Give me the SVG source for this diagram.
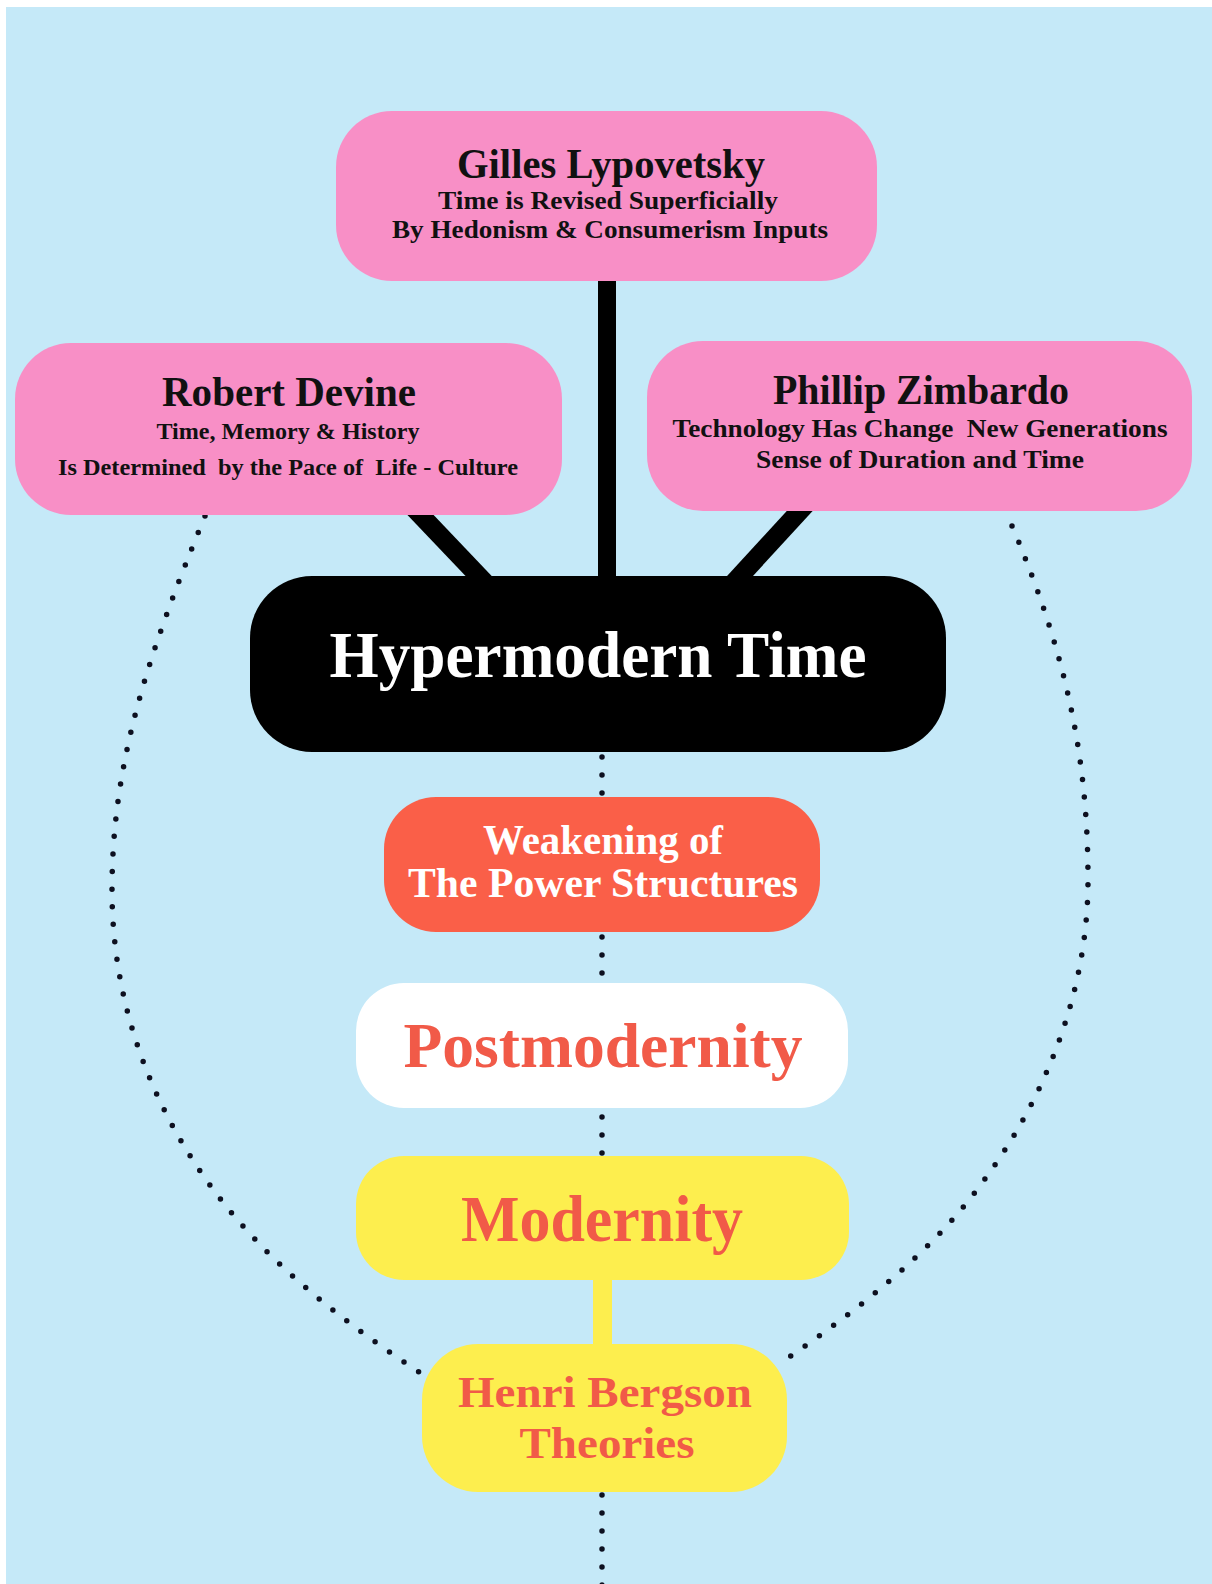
<svg xmlns="http://www.w3.org/2000/svg" width="1212" height="1584" viewBox="0 0 1212 1584">
  <defs>
    <style>
      .bg { fill: #c5e9f8; }
      .pink { fill: #f88fc6; }
      .t { font-family: "Liberation Serif", "Times New Roman", serif; font-weight: bold; text-anchor: middle; }
      .dark { fill: #111111; }
      .white { fill: #ffffff; }
      .red { fill: #f15a48; }
      .yellow { fill: #fdee4e; }
      .dots { fill: none; stroke: #0d1020; stroke-width: 5.5; stroke-linecap: round; }
      .bar { stroke: #000000; stroke-width: 19; stroke-linecap: butt; fill: none; }
    </style>
  </defs>

  <!-- page -->
  <rect x="0" y="0" width="1212" height="1584" fill="#ffffff"/>
  <rect class="bg" x="6" y="7" width="1206" height="1577"/>

  <!-- connectors -->
  <g id="connectors">
    <!-- dotted spine -->
    <path class="dots" d="M602 757 V1590" stroke-dasharray="0 18"/>
    <!-- dotted outer loop, left side -->
    <path class="dots" stroke-dasharray="0 17.6" d="M205 516 C150 650 112 760 112 890 C112 1015 160 1132 242 1225 C293 1283 357 1331 422 1374"/>
    <!-- dotted outer loop, right side -->
    <path class="dots" stroke-dasharray="0 17.6" d="M1012 526 C1067 655 1088 760 1088 880 C1088 1005 1035 1125 953 1219 C905 1273 847 1317 788 1358"/>
    <!-- black links into Hypermodern Time -->
    <rect x="598" y="270" width="18" height="315" fill="#000000"/>
    <line class="bar" x1="411" y1="505" x2="491" y2="589"/>
    <line class="bar" x1="807" y1="503" x2="729" y2="588"/>
    <!-- yellow link Modernity to Bergson -->
    <rect class="yellow" x="593" y="1270" width="19" height="80"/>
  </g>

  <g id="node-gilles">
    <rect class="pink" x="336" y="111" width="541" height="170" rx="56"/>
    <text class="t dark" x="611" y="178" font-size="42" textLength="308" lengthAdjust="spacingAndGlyphs">Gilles Lypovetsky</text>
    <text class="t dark" x="608" y="209" font-size="26" textLength="340" lengthAdjust="spacingAndGlyphs">Time is Revised Superficially</text>
    <text class="t dark" x="610" y="238" font-size="26" textLength="436" lengthAdjust="spacingAndGlyphs">By Hedonism &amp; Consumerism Inputs</text>
  </g>

  <g id="node-devine">
    <rect class="pink" x="15" y="343" width="547" height="172" rx="56"/>
    <text class="t dark" x="289" y="406" font-size="42" textLength="254" lengthAdjust="spacingAndGlyphs">Robert Devine</text>
    <text class="t dark" x="288" y="439" font-size="24" textLength="263" lengthAdjust="spacingAndGlyphs">Time, Memory &amp; History</text>
    <text class="t dark" x="288" y="475" font-size="24" textLength="460" lengthAdjust="spacingAndGlyphs" xml:space="preserve">Is Determined  by the Pace of  Life - Culture</text>
  </g>

  <g id="node-zimbardo">
    <rect class="pink" x="647" y="341" width="545" height="170" rx="56"/>
    <text class="t dark" x="921" y="404" font-size="42" textLength="296" lengthAdjust="spacingAndGlyphs">Phillip Zimbardo</text>
    <text class="t dark" x="920" y="437" font-size="25" textLength="495" lengthAdjust="spacingAndGlyphs" xml:space="preserve">Technology Has Change  New Generations</text>
    <text class="t dark" x="920" y="468" font-size="25" textLength="328" lengthAdjust="spacingAndGlyphs">Sense of Duration and Time</text>
  </g>

  <g id="node-hypermodern">
    <rect x="250" y="576" width="696" height="176" rx="62" fill="#000000"/>
    <text class="t white" x="598" y="677" font-size="66" textLength="537" lengthAdjust="spacingAndGlyphs">Hypermodern Time</text>
  </g>

  <g id="node-weakening">
    <rect x="384" y="797" width="436" height="135" rx="52" fill="#fa5f48"/>
    <text class="t white" x="603" y="854" font-size="43" textLength="240" lengthAdjust="spacingAndGlyphs">Weakening of</text>
    <text class="t white" x="603" y="897" font-size="43" textLength="390" lengthAdjust="spacingAndGlyphs">The Power Structures</text>
  </g>

  <g id="node-postmodernity">
    <rect x="356" y="983" width="492" height="125" rx="48" fill="#ffffff"/>
    <text class="t red" x="603" y="1067" font-size="63" textLength="399" lengthAdjust="spacingAndGlyphs">Postmodernity</text>
  </g>

  <g id="node-modernity">
    <rect class="yellow" x="356" y="1156" width="493" height="124" rx="48"/>
    <text class="t red" x="602" y="1241" font-size="66" textLength="282" lengthAdjust="spacingAndGlyphs">Modernity</text>
  </g>

  <g id="node-bergson">
    <rect class="yellow" x="422" y="1344" width="365" height="148" rx="56"/>
    <text class="t red" x="605" y="1407" font-size="45" textLength="294" lengthAdjust="spacingAndGlyphs">Henri Bergson</text>
    <text class="t red" x="607" y="1458" font-size="45" textLength="175" lengthAdjust="spacingAndGlyphs">Theories</text>
  </g>
</svg>
